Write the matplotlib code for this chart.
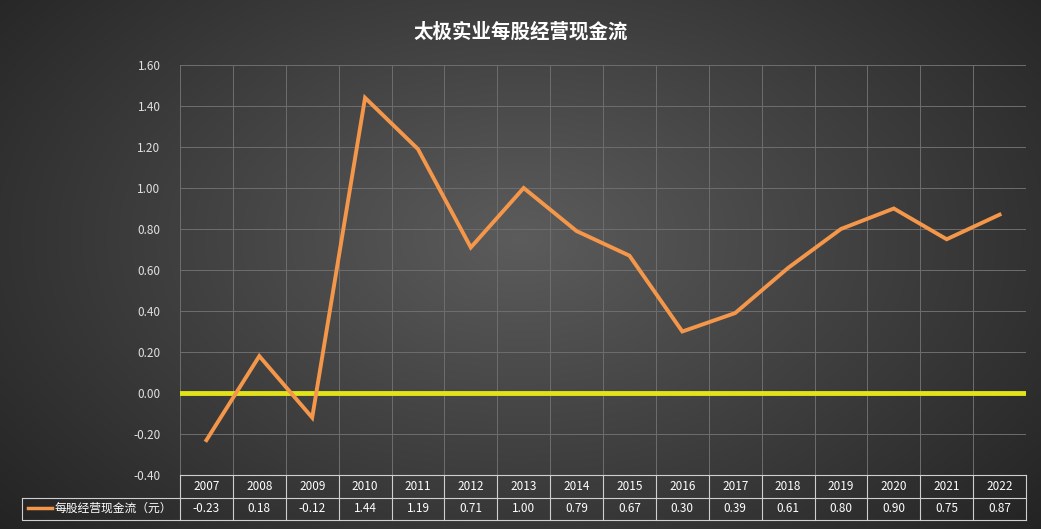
import matplotlib.pyplot as plt
import numpy as np

plt.rcParams['font.family'] = ['Noto Sans CJK SC', 'DejaVu Sans']

years = ['2007', '2008', '2009', '2010', '2011', '2012', '2013', '2014',
         '2015', '2016', '2017', '2018', '2019', '2020', '2021', '2022']
values = [-0.23, 0.18, -0.12, 1.44, 1.19, 0.71, 1.00, 0.79,
          0.67, 0.30, 0.39, 0.61, 0.80, 0.90, 0.75, 0.87]
series_name = '每股经营现金流（元）'
title = '太极实业每股经营现金流'

W, H = 1041, 529
fig = plt.figure(figsize=(W / 100, H / 100), dpi=100)

# radial gradient background
bg = fig.add_axes([0, 0, 1, 1])
yy, xx = np.mgrid[0:H, 0:W]
r = np.sqrt(((xx - W * 0.5) / (W * 0.6)) ** 2 + ((yy - H * 0.45) / (H * 0.75)) ** 2)
g = np.clip(0.36 - 0.2 * r, 0.14, 0.36)
bg.imshow(np.dstack([g, g, g]), aspect='auto', extent=[0, W, H, 0])
bg.axis('off')

left, right, top, bottom = 180, 1026, 65, 475
ax = fig.add_axes([left / W, 1 - bottom / H, (right - left) / W, (bottom - top) / H])
ax.patch.set_alpha(0)
n = len(years)
x = np.arange(n)
ax.set_xlim(-0.5, n - 0.5)
ax.set_ylim(-0.4, 1.6)
ax.set_yticks(np.arange(-0.4, 1.61, 0.2))
ax.set_yticklabels([f'{v:.2f}' for v in np.arange(-0.4, 1.61, 0.2)], color='#e0e0e0', fontsize=8.5)
ax.set_xticks([])
ax.tick_params(axis='y', length=0, pad=14)
for s in ax.spines.values():
    s.set_visible(False)
for v in np.arange(-0.4, 1.61, 0.2):
    ax.axhline(v, color='#6e6e6e', lw=0.7, zorder=1)
for b in np.arange(-0.5, n, 1):
    ax.axvline(b, color='#6e6e6e', lw=0.7, zorder=1)
ax.axhline(0, color='#e2e21a', lw=3.5, zorder=2)
ax.plot(x, values, color='#f5974a', lw=2.8, zorder=3, solid_joinstyle='miter')

# data table
rh = 22.5 / (bottom - top)
lc = dict(color='#cfcfcf', lw=0.8, clip_on=False, transform=ax.get_xaxis_transform())
for yv in [0, -rh, -2 * rh]:
    ax.plot([-0.5, n - 0.5], [yv, yv], **lc)
for b in np.arange(-0.5, n, 1):
    ax.plot([b, b], [0, -2 * rh], **lc)
legx = -0.5 - (left - 22) / ((right - left) / n)
ax.plot([legx, legx, -0.5], [-rh, -2 * rh, -2 * rh], **lc)
ax.plot([legx, -0.5], [-rh, -rh], **lc)
tr = ax.get_xaxis_transform()
for i in range(n):
    ax.text(i, -0.5 * rh, years[i], ha='center', va='center', color='white', fontsize=8.5, transform=tr)
    ax.text(i, -1.5 * rh, f'{values[i]:.2f}', ha='center', va='center', color='white', fontsize=8.5, transform=tr)
fig.lines.append(plt.Line2D([28 / W, 52 / W], [1 - 508 / H] * 2, color='#f5974a', lw=2.5, transform=fig.transFigure))
fig.text(55 / W, 1 - 508 / H, series_name, color='white', fontsize=8.5, va='center')

fig.text(0.5, 1 - 32 / H, title, color='white', fontsize=14, fontweight='bold', ha='center', va='center')

fig.savefig('out.png', dpi=100)
